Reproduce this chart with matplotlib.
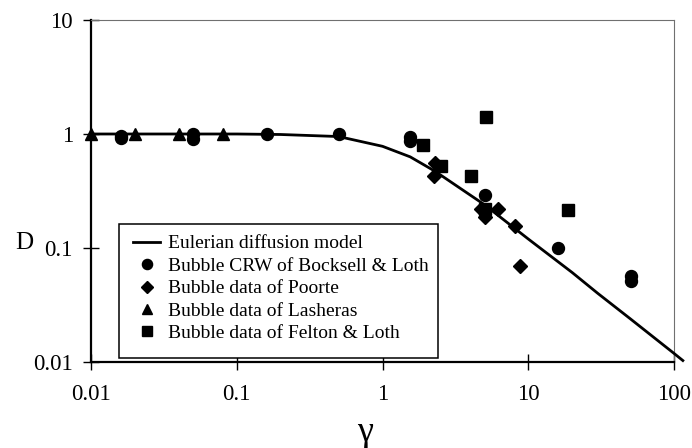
import matplotlib
matplotlib.use("Agg")
import matplotlib.pyplot as plt
from matplotlib.patches import Rectangle

# Eulerian diffusion model curve
model_gamma = [0.01, 0.1, 0.2, 0.5, 1.0, 1.55, 2.3, 5.0, 10.0, 20.0, 30.0, 50.0, 100.0, 115.0]
model_D = [1.0, 1.0, 0.99, 0.95, 0.78, 0.63, 0.47, 0.24, 0.12, 0.061, 0.040, 0.024, 0.0119, 0.0103]

# Bubble CRW of Bocksell & Loth
crw_gamma = [0.016, 0.016, 0.05, 0.05, 0.16, 0.5, 1.55, 1.55, 5.05, 15.9, 51.0, 51.0]
crw_D = [0.97, 0.92, 0.99, 0.91, 1.0, 1.0, 0.95, 0.86, 0.29, 0.10, 0.057, 0.051]

# Bubble data of Poorte
poorte_gamma = [2.31, 2.25, 4.72, 5.05, 6.25, 8.13, 8.77]
poorte_D = [0.56, 0.43, 0.22, 0.186, 0.22, 0.156, 0.070]

# Bubble data of Lasheras
lash_gamma = [0.01, 0.02, 0.04, 0.08]
lash_D = [1.0, 1.0, 1.0, 1.0]

# Bubble data of Felton & Loth
felton_gamma = [1.89, 2.53, 4.03, 5.13, 5.05, 18.7]
felton_D = [0.80, 0.52, 0.43, 1.42, 0.22, 0.215]

x_ticks = [0.01, 0.1, 1, 10, 100]
x_ticklabels = ["0.01", "0.1", "1", "10", "100"]
y_ticks = [0.01, 0.1, 1, 10]
y_ticklabels = ["0.01", "0.1", "1", "10"]

plt.rcParams["font.family"] = ["Liberation Serif", "DejaVu Serif"]

fig = plt.figure(figsize=(6.92, 4.48), dpi=100)
ax = fig.add_axes([91 / 692, 1 - 362 / 448, (674 - 91) / 692, (362 - 20) / 448])

ax.set_xscale("log")
ax.set_yscale("log")
ax.set_xlim(0.01, 100)
ax.set_ylim(0.01, 10)

line, = ax.plot(model_gamma, model_D, color="black", lw=2.0, clip_on=False,
                zorder=3, label="Eulerian diffusion model")
h1, = ax.plot(crw_gamma, crw_D, "o", color="black", ms=8.6, ls="none", clip_on=False,
              zorder=4, label="Bubble CRW of Bocksell & Loth")
h2, = ax.plot(poorte_gamma, poorte_D, "D", color="black", ms=7.0, ls="none", clip_on=False,
              zorder=4, label="Bubble data of Poorte")
h3, = ax.plot(lash_gamma, lash_D, "^", color="black", ms=8.6, ls="none", clip_on=False,
              zorder=4, label="Bubble data of Lasheras")
h4, = ax.plot(felton_gamma, felton_D, "s", color="black", ms=8.4, ls="none", clip_on=False,
              zorder=4, label="Bubble data of Felton & Loth")

ax.set_xticks(x_ticks)
ax.set_xticklabels(x_ticklabels)
ax.set_yticks(y_ticks)
ax.set_yticklabels(y_ticklabels)
ax.minorticks_off()
ax.tick_params(axis="both", which="major", direction="inout", length=12, width=1.0,
               labelsize=16.5, color="black")
ax.tick_params(axis="y", pad=7)
ax.tick_params(axis="x", pad=10)

for side in ("left", "bottom"):
    ax.spines[side].set_linewidth(1.6)
    ax.spines[side].set_color("black")
for side in ("top", "right"):
    ax.spines[side].set_linewidth(0.8)
    ax.spines[side].set_color("#707070")

ax.set_xlabel("γ", fontsize=26)
ax.xaxis.set_label_coords(0.47, -0.205)
ax.xaxis.label.set_va("center")
ax.set_ylabel("D", fontsize=18, rotation=0)
ax.yaxis.set_label_coords(-0.115, 0.348)
ax.yaxis.label.set_va("center")
ax.yaxis.label.set_ha("center")

# legend box
ax.add_patch(Rectangle((0.048, 0.0117), 0.547, 0.392, transform=ax.transAxes,
                       facecolor="white", edgecolor="black", lw=1.1, zorder=5,
                       clip_on=False))
leg = ax.legend(handles=[line, h1, h2, h3, h4], loc="upper left",
                bbox_to_anchor=(0.072, 0.372), frameon=False, fontsize=14,
                borderpad=0, borderaxespad=0, handlelength=1.4, handletextpad=0.42,
                labelspacing=0.25, markerscale=0.85)
leg.set_zorder(6)

fig.savefig("out.png", dpi=100, facecolor="white")
